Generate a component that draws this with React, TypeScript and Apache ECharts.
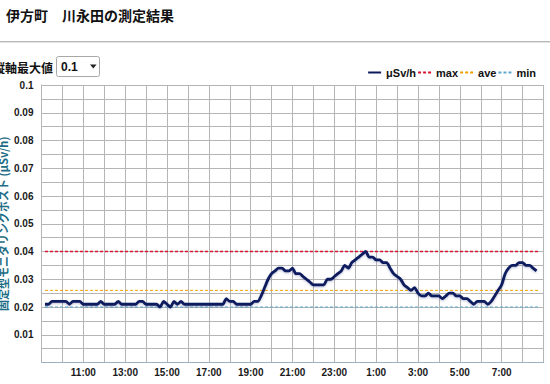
import React, { useEffect, useRef } from 'react';
import * as echarts from 'echarts';

const titleText = '伊方町　川永田の測定結果';
const yAxisTitle = '固定型モニタリングポスト (μSv/h)';
const selectLabel = '縦軸最大値';
const selectValue = '0.1';
const seriesNames = ['μSv/h', 'max', 'ave', 'min'];

const axisStartHour = 9;
const firstSampleMinutes = 10; // 9:10
const sampleStepMinutes = 10;
const refLineEndMinutes = 23 * 60 + 50; // 8:50 next day

const doseValues = [
  0.021, 0.021, 0.022, 0.022, 0.022, 0.022, 0.022, 0.021, 0.022, 0.022,
  0.022, 0.021, 0.021, 0.021, 0.021, 0.021, 0.022, 0.021, 0.021, 0.021,
  0.021, 0.022, 0.021, 0.021, 0.021, 0.021, 0.021, 0.022, 0.022, 0.021,
  0.021, 0.021, 0.021, 0.020, 0.022, 0.021, 0.020, 0.022, 0.021, 0.022,
  0.021, 0.021, 0.021, 0.021, 0.021, 0.021, 0.021, 0.021, 0.021, 0.021,
  0.021, 0.021, 0.023, 0.022, 0.022, 0.021, 0.021, 0.021, 0.021, 0.021,
  0.022, 0.022, 0.024, 0.027, 0.030, 0.032, 0.033, 0.034, 0.034, 0.033,
  0.033, 0.034, 0.032, 0.032, 0.031, 0.030, 0.029, 0.028, 0.028, 0.028,
  0.028, 0.030, 0.030, 0.031, 0.032, 0.033, 0.035, 0.034, 0.036, 0.037,
  0.038, 0.039, 0.040, 0.038, 0.038, 0.037, 0.037, 0.036, 0.036, 0.034,
  0.032, 0.031, 0.030, 0.028, 0.027, 0.026, 0.027, 0.025, 0.024, 0.024,
  0.025, 0.024, 0.024, 0.024, 0.023, 0.024, 0.025, 0.025, 0.024, 0.024,
  0.023, 0.023, 0.022, 0.021, 0.022, 0.022, 0.022, 0.021, 0.022, 0.024,
  0.026, 0.028, 0.032, 0.034, 0.035, 0.035, 0.036, 0.036, 0.035, 0.035,
  0.034, 0.033,
];

const maxLevel = 0.04;
const aveLevel = 0.026;
const minLevel = 0.02;
const yMax = 0.1;
const yStep = 0.005;
const xHours = 24;

const LATIN = '"Liberation Sans", Arial, "Noto Sans CJK JP", sans-serif';
const CJK = '"Noto Sans CJK JP", "Liberation Sans", sans-serif';

export default function App() {
  const ref = useRef<HTMLDivElement>(null);

  useEffect(() => {
    if (!ref.current) return;
    const chart = echarts.init(ref.current, null, { renderer: 'svg' });

    const doseData = doseValues.map((v, k) => [
      (firstSampleMinutes + k * sampleStepMinutes) / 60,
      v,
    ]);
    const refStart = firstSampleMinutes / 60;
    const refEnd = refLineEndMinutes / 60;
    const refLine = (v: number) => [
      [refStart, v],
      [refEnd, v],
    ];

    chart.setOption({
      animation: false,
      backgroundColor: '#ffffff',
      grid: {
        left: 41.5,
        right: 6.5,
        top: 85,
        bottom: 21.5,
        outerBoundsMode: 'none',
        containLabel: false,
      },
      legend: {
        data: seriesNames,
        right: 9,
        top: 62,
        itemWidth: 13,
        itemHeight: 8,
        itemGap: 1,
        itemStyle: { opacity: 0, color: 'transparent', borderWidth: 0 },
        textStyle: {
          fontFamily: LATIN,
          fontWeight: 'bold',
          fontSize: 11,
          color: '#111',
        },
      },
      xAxis: {
        type: 'value',
        min: 0,
        max: xHours,
        interval: 1,
        axisLine: { show: true, onZero: false, lineStyle: { color: '#9fb0c4', width: 1 } },
        axisTick: { show: false },
        splitLine: { show: true, lineStyle: { color: '#b5b5b5', width: 1 } },
        axisLabel: {
          margin: 5,
          fontFamily: LATIN,
          fontWeight: 'bold',
          fontSize: 10,
          color: '#1a1a1a',
          showMinLabel: true,
          showMaxLabel: true,
          formatter: (v: number) => {
            const h = Math.round(v);
            if (h % 2 === 0 && h > 0 && h < xHours) return `${(axisStartHour + h) % 24}:00`;
            return '';
          },
        },
      },
      yAxis: {
        type: 'value',
        min: 0,
        max: yMax,
        interval: yStep,
        name: yAxisTitle,
        nameLocation: 'middle',
        nameRotate: 90,
        nameGap: 33,
        nameMoveOverlap: false,
        nameTextStyle: {
          fontFamily: CJK,
          fontWeight: 'bold',
          fontSize: 11,
          color: '#1d6d86',
        },
        axisLine: { show: true, lineStyle: { color: '#b5b5b5', width: 1 } },
        axisTick: { show: false },
        splitLine: { show: true, lineStyle: { color: '#b5b5b5', width: 1 } },
        axisLabel: {
          margin: 8,
          fontFamily: LATIN,
          fontWeight: 'bold',
          fontSize: 10,
          color: '#1a1a1a',
          formatter: (v: number) => {
            const r = Math.round(v * 1000);
            if (r === 0 || r % 10 !== 0) return '';
            return String(Number(v.toFixed(2)));
          },
        },
      },
      series: [
        {
          name: seriesNames[0],
          type: 'line',
          data: doseData,
          symbol: 'none',
          smooth: 0.25,
          z: 5,
          lineStyle: {
            color: '#0c1a5e',
            width: 2.8,
            shadowColor: 'rgba(20,40,120,0.3)',
            shadowBlur: 2,
            shadowOffsetY: 1,
          },
          itemStyle: { color: '#0c1a5e' },
        },
        {
          name: seriesNames[1],
          type: 'line',
          data: refLine(maxLevel),
          symbol: 'none',
          z: 3,
          lineStyle: { color: '#d8142f', width: 1.3, type: [3, 2] },
          itemStyle: { color: '#d8142f' },
        },
        {
          name: seriesNames[2],
          type: 'line',
          data: refLine(aveLevel),
          symbol: 'none',
          z: 3,
          lineStyle: { color: '#f0a000', width: 1, type: [3, 2] },
          itemStyle: { color: '#f0a000' },
        },
        {
          name: seriesNames[3],
          type: 'line',
          data: refLine(minLevel),
          symbol: 'none',
          z: 3,
          lineStyle: { color: '#5aa8cf', width: 1, type: [3, 2] },
          itemStyle: { color: '#5aa8cf' },
        },
      ],
      graphic: [
        {
          type: 'text',
          left: 6,
          top: 8,
          style: {
            text: titleText,
            fontFamily: CJK,
            fontWeight: 'bold',
            fontSize: 14,
            fill: '#111',
          },
        },
        { type: 'rect', shape: { x: 0, y: 41, width: 550, height: 1 }, style: { fill: '#b8b8b8' } },
        { type: 'rect', shape: { x: 0, y: 42, width: 550, height: 1 }, style: { fill: '#e2e2e2' } },
        {
          type: 'text',
          x: 53,
          y: 67,
          style: {
            text: selectLabel,
            align: 'right',
            verticalAlign: 'middle',
            fontFamily: CJK,
            fontWeight: 'bold',
            fontSize: 12,
            fill: '#111',
          },
        },
        {
          type: 'rect',
          shape: { x: 56.5, y: 56.5, width: 43, height: 20, r: 2 },
          style: { fill: '#ffffff', stroke: '#a8a8a8', lineWidth: 1 },
        },
        {
          type: 'text',
          x: 61,
          y: 67,
          style: {
            text: selectValue,
            verticalAlign: 'middle',
            fontFamily: LATIN,
            fontWeight: 'bold',
            fontSize: 12,
            fill: '#111',
          },
        },
        {
          type: 'polygon',
          shape: { points: [[90, 64.5], [96.5, 64.5], [93.25, 68.5]] },
          style: { fill: '#222' },
        },
      ],
    });

    return () => chart.dispose();
  }, []);

  return (
    <div
      ref={ref}
      style={{ position: 'fixed', left: 0, top: 0, width: 550, height: 384 }}
    />
  );
}
